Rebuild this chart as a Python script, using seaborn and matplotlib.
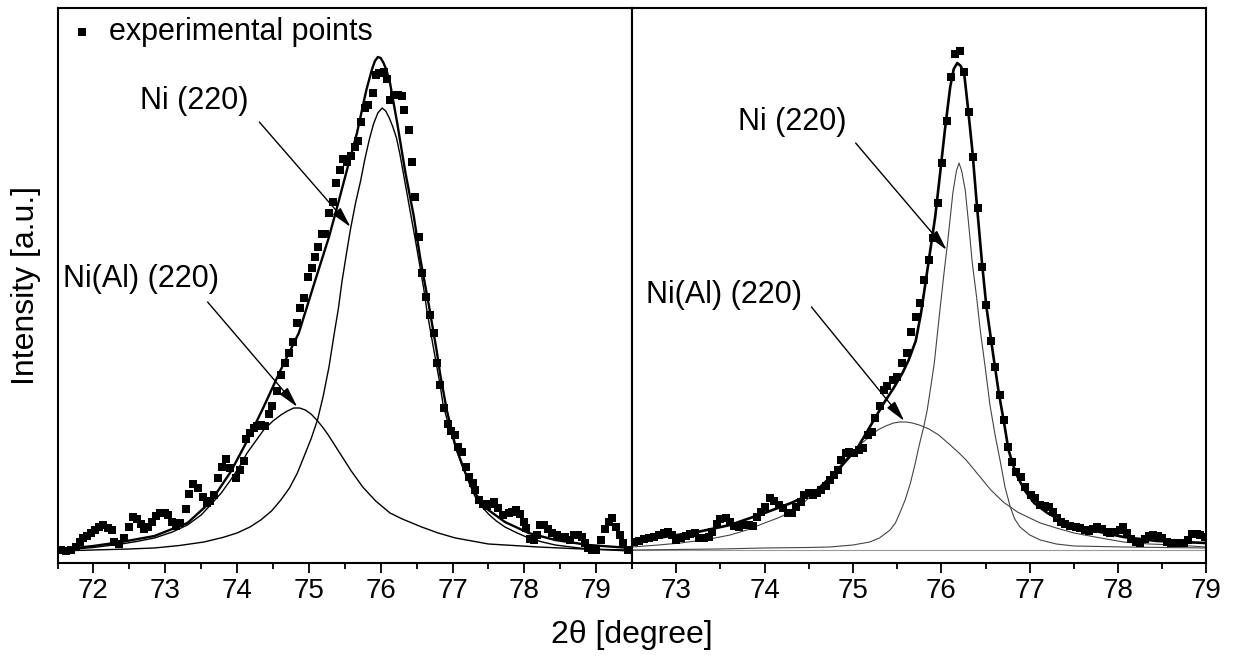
import seaborn as sns
import matplotlib.pyplot as plt
from matplotlib.ticker import MultipleLocator

# left panel - measured points (2theta, intensity in a.u.)
left_x = [71.55, 71.62, 71.69, 71.76, 71.81, 71.85, 71.91, 71.97, 72.02, 72.08,
          72.14, 72.20, 72.26, 72.29, 72.36, 72.43, 72.49, 72.55, 72.61, 72.66,
          72.71, 72.76, 72.82, 72.87, 72.93, 72.99, 73.04, 73.09, 73.15, 73.21,
          73.29, 73.33, 73.39, 73.46, 73.52, 73.58, 73.63, 73.68, 73.74, 73.79,
          73.84, 73.90, 73.98, 74.04, 74.09, 74.13, 74.18, 74.23, 74.28, 74.33,
          74.39, 74.44, 74.49, 74.55, 74.61, 74.67, 74.72, 74.78, 74.84, 74.88,
          74.93, 74.99, 75.04, 75.08, 75.13, 75.18, 75.23, 75.28, 75.33, 75.38,
          75.44, 75.47, 75.53, 75.58, 75.64, 75.69, 75.73, 75.78, 75.82, 75.89,
          75.93, 75.98, 76.04, 76.09, 76.13, 76.18, 76.24, 76.29, 76.33, 76.39,
          76.43, 76.48, 76.54, 76.58, 76.63, 76.68, 76.74, 76.78, 76.83, 76.88,
          76.94, 76.98, 77.03, 77.07, 77.13, 77.19, 77.23, 77.28, 77.32, 77.37,
          77.42, 77.48, 77.52, 77.58, 77.64, 77.71, 77.78, 77.83, 77.89, 77.94,
          77.99, 78.03, 78.08, 78.13, 78.17, 78.22, 78.28, 78.33, 78.39, 78.45,
          78.51, 78.57, 78.63, 78.69, 78.75, 78.80, 78.84, 78.89, 78.94, 79.00,
          79.07, 79.13, 79.18, 79.22, 79.28, 79.33, 79.38, 79.44]
left_y = [13, 12, 13, 16, 21, 25, 27, 30, 33, 36,
          38, 35, 33, 21, 19, 25, 36, 46, 44, 39,
          34, 36, 41, 47, 50, 50, 48, 41, 37, 40,
          54, 69, 79, 75, 66, 60, 62, 68, 85, 96,
          104, 95, 85, 93, 102, 124, 130, 135, 137, 138,
          137, 149, 157, 172, 188, 200, 210, 221, 240, 255,
          265, 286, 295, 306, 316, 329, 329, 350, 361, 380,
          393, 404, 401, 407, 416, 422, 441, 455, 458, 470,
          488, 490, 491, 484, 463, 468, 468, 467, 453, 433,
          401, 366, 326, 290, 266, 248, 230, 200, 178, 155,
          139, 132, 128, 116, 111, 96, 86, 80, 73, 63,
          59, 57, 59, 61, 55, 48, 50, 51, 53, 49,
          41, 35, 24, 23, 28, 38, 38, 34, 30, 28,
          26, 26, 23, 28, 28, 26, 20, 15, 13, 13,
          23, 34, 41, 45, 36, 28, 20, 13]

# left panel - fit: sum curve and the two components
left_fit_x = [71.5, 71.75, 72.0, 72.39, 72.85, 73.31, 73.63, 73.91, 74.14, 74.37,
              74.6, 74.86, 75.09, 75.28, 75.42, 75.53, 75.67, 75.80, 75.88, 75.92,
              75.96, 76.00, 76.04, 76.08, 76.13, 76.23, 76.34, 76.46, 76.55, 76.67,
              76.78, 76.83, 76.92, 77.04, 77.18, 77.31, 77.5, 77.73, 78.06, 78.43,
              78.89, 79.47]
left_fit_y = [14, 15, 17, 21, 27, 40, 61, 91, 122, 156,
              192, 230, 283, 326, 363, 393, 430, 473, 494, 502,
              506, 505, 500, 493, 480, 440, 392, 347, 305, 258,
              212, 188, 153, 117, 90, 70, 53, 41, 30, 23,
              18, 15]
ni_l_x = [71.5, 72.0, 72.5, 72.85, 73.2, 73.54, 73.8, 74.0, 74.18, 74.33,
          74.48, 74.61, 74.73, 74.84, 74.93, 75.03, 75.12, 75.2, 75.28, 75.35,
          75.41, 75.46, 75.52, 75.58, 75.65, 75.72, 75.78, 75.84, 75.90, 75.96,
          76.02, 76.07, 76.12, 76.17, 76.22, 76.27, 76.32, 76.38, 76.44, 76.5,
          76.55, 76.6, 76.64, 76.7, 76.76, 76.82, 76.87, 76.93, 76.99, 77.06,
          77.13, 77.22, 77.31, 77.4, 77.5, 77.61, 77.73, 77.9, 78.06, 78.25,
          78.43, 78.65, 78.89, 79.47]
ni_l_y = [12, 13, 14, 15, 17.5, 21, 25.5, 30, 36, 43,
          52, 63, 75, 90, 106, 124, 143, 167, 196, 228,
          254, 281, 308, 334, 360, 382, 404, 423, 439, 450,
          455, 452, 445, 436, 425, 408, 388, 364, 340, 316,
          295, 274, 254, 229, 205, 181, 158, 142, 128, 112,
          98, 82, 67, 57, 49, 42, 36, 30, 25, 21,
          18, 16, 14, 12]
nial_l_x = [71.5, 71.74, 72.0, 72.39, 72.6, 72.85, 73.1, 73.31, 73.5, 73.63,
            73.78, 73.91, 74.03, 74.14, 74.26, 74.37, 74.5, 74.61, 74.70, 74.79,
            74.87, 74.95, 75.03, 75.11, 75.19, 75.27, 75.35, 75.43, 75.51, 75.59,
            75.67, 75.75, 75.84, 75.93, 76.03, 76.13, 76.3, 76.57, 76.8, 77.04,
            77.5, 78.19, 78.8, 79.45]
nial_l_y = [13, 14, 15.5, 19, 21.5, 25, 31, 38, 48, 58,
            70, 83, 96, 110, 122, 133, 142, 148, 152, 155,
            155, 153, 149, 143, 136, 128, 119, 110, 101, 92,
            84, 76, 69, 62, 56, 50, 44, 36, 30, 25,
            19, 16, 14, 13]

# right panel - measured points
right_x = [72.52, 72.58, 72.63, 72.69, 72.75, 72.80, 72.86, 72.91, 72.95, 73.00,
           73.05, 73.11, 73.16, 73.21, 73.26, 73.31, 73.37, 73.41, 73.46, 73.50,
           73.56, 73.61, 73.65, 73.71, 73.77, 73.82, 73.87, 73.91, 73.96, 74.01,
           74.06, 74.11, 74.16, 74.21, 74.26, 74.31, 74.36, 74.41, 74.45, 74.50,
           74.55, 74.59, 74.64, 74.69, 74.74, 74.78, 74.83, 74.87, 74.92, 74.96,
           75.01, 75.07, 75.11, 75.17, 75.21, 75.25, 75.30, 75.35, 75.39, 75.45,
           75.50, 75.56, 75.61, 75.66, 75.71, 75.76, 75.80, 75.86, 75.91, 75.96,
           76.01, 76.06, 76.11, 76.15, 76.21, 76.26, 76.31, 76.36, 76.41, 76.46,
           76.51, 76.56, 76.61, 76.66, 76.71, 76.75, 76.80, 76.85, 76.90, 76.95,
           77.01, 77.06, 77.12, 77.17, 77.22, 77.26, 77.31, 77.35, 77.40, 77.46,
           77.52, 77.57, 77.62, 77.67, 77.72, 77.76, 77.82, 77.87, 77.91, 77.97,
           78.02, 78.06, 78.10, 78.15, 78.20, 78.25, 78.30, 78.35, 78.40, 78.45,
           78.50, 78.55, 78.60, 78.65, 78.70, 78.74, 78.79, 78.84, 78.89, 78.93,
           78.98]
right_y = [21, 22, 24, 25, 26, 28, 30, 31, 28, 23,
           25, 27, 29, 30, 25, 25, 26, 31, 39, 44,
           45, 41, 37, 36, 38, 38, 37, 46, 51, 56,
           65, 62, 58, 55, 50, 50, 56, 61, 68, 70,
           68, 70, 73, 77, 83, 88, 93, 103, 110, 111,
           110, 113, 115, 128, 131, 145, 157, 173, 177, 183,
           186, 200, 210, 231, 246, 260, 283, 303, 325, 360,
           400, 442, 486, 509, 512, 491, 451, 406, 355, 296,
           258, 222, 196, 168, 143, 116, 101, 91, 86, 76,
           68, 65, 58, 57, 56, 51, 45, 41, 39, 37,
           36, 35, 33, 32, 34, 36, 34, 31, 30, 31,
           33, 36, 30, 24, 21, 20, 24, 27, 28, 27,
           25, 21, 20, 20, 20, 20, 23, 29, 29, 28,
           26]

# right panel - fit curves
right_fit_x = [72.5, 72.86, 73.24, 73.61, 74.0, 74.30, 74.57, 74.83, 75.05, 75.23,
               75.35, 75.46, 75.56, 75.63, 75.71, 75.77, 75.82, 75.88, 75.93, 75.99,
               76.04, 76.10, 76.14, 76.18, 76.22, 76.26, 76.30, 76.35, 76.40, 76.46,
               76.51, 76.59, 76.65, 76.71, 76.76, 76.84, 76.94, 77.05, 77.20, 77.39,
               77.69, 78.06, 78.44, 78.99]
right_fit_y = [23, 26, 31, 38, 50, 60, 71, 93, 115, 142,
               160, 175, 190, 203, 222, 250, 280, 316, 346, 393,
               433, 476, 494, 500, 497, 488, 456, 413, 360, 300,
               256, 206, 170, 140, 113, 90, 73, 60, 50, 41,
               33, 26, 22, 20]
ni_r_x = [72.5, 73.5, 74.0, 74.5, 74.74, 75.0, 75.19, 75.3, 75.42, 75.48,
          75.53, 75.59, 75.65, 75.70, 75.75, 75.80, 75.84, 75.88, 75.92, 75.95,
          75.98, 76.03, 76.07, 76.10, 76.13, 76.17, 76.20, 76.23, 76.27, 76.31,
          76.35, 76.40, 76.44, 76.50, 76.55, 76.61, 76.67, 76.72, 76.78, 76.83,
          76.89, 77.0, 77.12, 77.3, 77.5, 78.06, 78.99]
ni_r_y = [13, 14, 15, 15.5, 16, 18, 21, 25, 33, 40,
          50, 63, 80, 98, 118, 136, 153, 176, 200, 225,
          250, 290, 320, 345, 370, 392, 400, 392, 373, 338,
          300, 265, 233, 193, 158, 127, 100, 76, 56, 44,
          36, 28, 23, 19, 17, 16, 15]
nial_r_x = [72.5, 72.8, 73.05, 73.35, 73.61, 73.8, 74.0, 74.15, 74.30, 74.45,
            74.60, 74.72, 74.83, 74.94, 75.05, 75.17, 75.28, 75.37, 75.46, 75.53,
            75.60, 75.67, 75.75, 75.86, 75.97, 76.1, 76.2, 76.28, 76.42, 76.56,
            76.7, 76.86, 77.0, 77.12, 77.3, 77.50, 77.8, 78.06, 78.35, 78.63,
            78.99]
nial_r_y = [16, 18, 20, 23.5, 28, 33, 40, 45, 51, 61,
            73, 84, 95, 106, 116, 125, 133, 137, 140, 141,
            141, 140, 138, 134, 128, 118, 110, 103, 88, 73,
            61, 51, 45, 40, 35, 30, 25, 21, 19, 18,
            16]
base_r_x = [72.5, 79.0]
base_r_y = [13, 13]

sns.set_theme(style="white")
plt.rcParams['font.family'] = ['Liberation Sans', 'DejaVu Sans']
plt.rcParams['text.color'] = 'black'
plt.rcParams['axes.labelcolor'] = 'black'
plt.rcParams['xtick.color'] = 'black'

fig = plt.figure(figsize=(12.34, 6.57), dpi=100)
ax1 = fig.add_axes([0.0466, 0.1431, 0.4656, 0.8447])
ax2 = fig.add_axes([0.5122, 0.1431, 0.4655, 0.8447], sharey=ax1)

# left panel
sns.lineplot(x=nial_l_x, y=nial_l_y, ax=ax1, color="black", lw=1.0, sort=False, estimator=None)
sns.lineplot(x=ni_l_x, y=ni_l_y, ax=ax1, color="black", lw=1.0, sort=False, estimator=None)
sns.lineplot(x=left_fit_x, y=left_fit_y, ax=ax1, color="black", lw=1.7, sort=False, estimator=None)
sns.scatterplot(x=left_x, y=left_y, ax=ax1, marker="s", s=30, color="black",
                linewidth=0, label="experimental points", zorder=3)

# right panel
sns.lineplot(x=base_r_x, y=base_r_y, ax=ax2, color="#999999", lw=0.8, sort=False, estimator=None)
sns.lineplot(x=nial_r_x, y=nial_r_y, ax=ax2, color="#444444", lw=0.8, sort=False, estimator=None)
sns.lineplot(x=ni_r_x, y=ni_r_y, ax=ax2, color="#444444", lw=0.8, sort=False, estimator=None)
sns.lineplot(x=right_fit_x, y=right_fit_y, ax=ax2, color="black", lw=1.9, sort=False, estimator=None)
sns.scatterplot(x=right_x, y=right_y, ax=ax2, marker="s", s=30, color="black",
                linewidth=0, zorder=3, legend=False)

fs = 22
arrow = dict(arrowstyle="-|>,head_length=0.9,head_width=0.22", color="black",
             lw=1.0, mutation_scale=14, shrinkA=0, shrinkB=0)

ax1.text(73.41, 462, "Ni (220)", fontsize=fs, ha="center", va="center")
ax1.annotate("", xy=(75.58, 336), xytext=(74.31, 441), arrowprops=arrow)
ax1.text(71.57, 284, "Ni(Al) (220)", fontsize=fs, ha="left", va="center")
ax1.annotate("", xy=(74.84, 156), xytext=(73.59, 261), arrowprops=arrow)

ax2.text(74.31, 441, "Ni (220)", fontsize=fs, ha="center", va="center")
ax2.annotate("", xy=(76.06, 313), xytext=(75.03, 420), arrowprops=arrow)
ax2.text(72.66, 268, "Ni(Al) (220)", fontsize=fs, ha="left", va="center")
ax2.annotate("", xy=(75.58, 142), xytext=(74.53, 256), arrowprops=arrow)

leg = ax1.legend(loc="upper left", frameon=False, fontsize=fs, borderaxespad=0,
                 borderpad=0.3, handlelength=1.0, handletextpad=0.4)
for t in leg.get_texts():
    t.set_color("black")

ax1.set_xlim(71.5, 79.5)
ax2.set_xlim(72.5, 79.0)
ax1.set_ylim(0, 555)

for ax in (ax1, ax2):
    ax.xaxis.set_major_locator(MultipleLocator(1))
    ax.xaxis.set_minor_locator(MultipleLocator(0.5))
    ax.tick_params(axis="x", which="major", direction="out", length=7, width=1.3,
                   labelsize=20, pad=4, colors="black", bottom=True)
    ax.tick_params(axis="x", which="minor", direction="out", length=4, width=1.3, bottom=True)
    ax.tick_params(axis="y", left=False, labelleft=False)
    for sp in ax.spines.values():
        sp.set_visible(True)
        sp.set_color("black")
        sp.set_linewidth(1.5)
    ax.set_xlabel("")
    ax.set_ylabel("")

ax1.set_xticks([72, 73, 74, 75, 76, 77, 78, 79])
ax2.set_xticks([73, 74, 75, 76, 77, 78, 79])

ax1.set_ylabel("Intensity [a.u.]", fontsize=23, labelpad=12)
fig.text(0.512, 0.034, "2\u03b8 [degree]", fontsize=23, ha="center", va="center")

fig.savefig("out.png", dpi=100, facecolor="white")
